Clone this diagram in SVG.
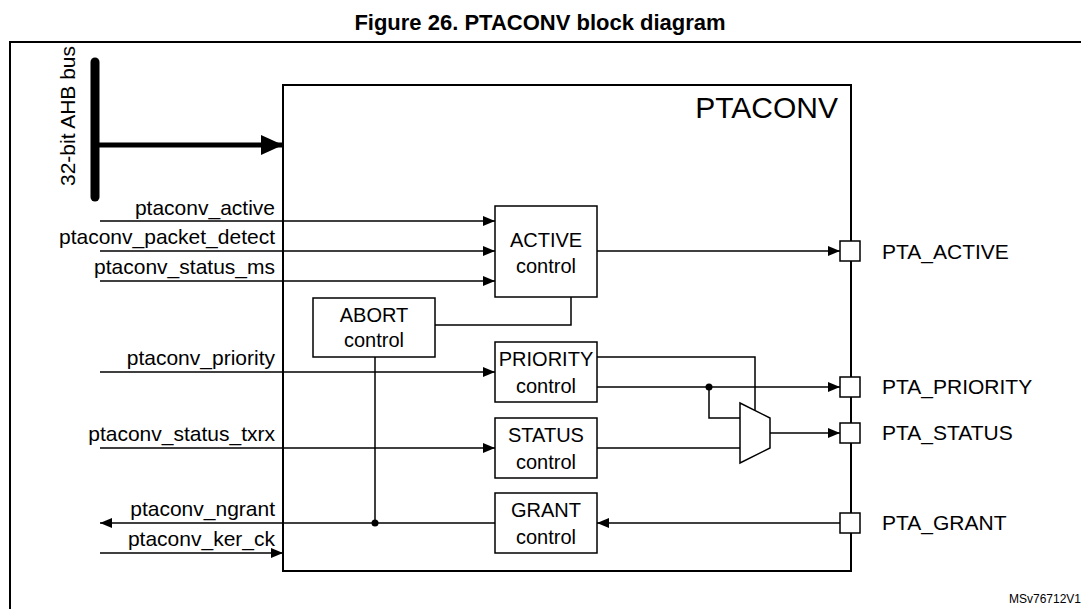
<svg xmlns="http://www.w3.org/2000/svg" width="1081" height="609" viewBox="0 0 1081 609">
<defs>
<marker id="ah" markerWidth="12" markerHeight="10" refX="12" refY="5" orient="auto" markerUnits="userSpaceOnUse"><path d="M0,0 L12,5 L0,10 Z" fill="#000"/></marker>
<marker id="ahb" markerWidth="22" markerHeight="20" refX="22" refY="10" orient="auto" markerUnits="userSpaceOnUse"><path d="M0,0 L22,10 L0,20 Z" fill="#000"/></marker>
</defs>
<style>
text{font-family:"Liberation Sans",Arial,sans-serif;font-size:20px;fill:#000}
.s{font-size:21px}
.b{fill:#fff;stroke:#000;stroke-width:1.5}
.l{fill:none;stroke:#000;stroke-width:1.5}
.r{text-anchor:end}
.c{text-anchor:middle}
</style>
<rect width="1081" height="609" fill="#fff"/>
<text x="540" y="30" class="c" style="font-weight:bold;font-size:22px">Figure 26. PTACONV block diagram</text>
<rect x="10" y="42" width="1090" height="600" class="l" style="stroke-width:2"/>
<g id="ptaconv"><rect x="283" y="85" width="568" height="486" class="b" style="stroke-width:2"/><text x="838" y="118" class="r" style="font-size:30px">PTACONV</text></g>
<g id="bus"><line x1="95" y1="62" x2="95" y2="197" stroke="#000" stroke-width="9" stroke-linecap="round"/><text transform="translate(75,116) rotate(-90)" class="c s">32-bit AHB bus</text></g>
<g id="active"><rect x="495" y="206" width="102" height="91" class="b"/><text x="546" y="247" class="c">ACTIVE</text><text x="546" y="273" class="c">control</text></g>
<g id="abort"><rect x="313" y="298" width="122" height="59" class="b"/><text x="374" y="322" class="c">ABORT</text><text x="374" y="347" class="c">control</text></g>
<g id="priority"><rect x="495" y="342" width="102" height="60" class="b"/><text x="546" y="366" class="c">PRIORITY</text><text x="546" y="393" class="c">control</text></g>
<g id="status"><rect x="495" y="418" width="102" height="60" class="b"/><text x="546" y="442" class="c">STATUS</text><text x="546" y="469" class="c">control</text></g>
<g id="grant"><rect x="495" y="493" width="102" height="60" class="b"/><text x="546" y="517" class="c">GRANT</text><text x="546" y="544" class="c">control</text></g>
<g id="mux"><path d="M740,403 L770,418 L770,448 L740,463 Z" class="b"/></g>
<g id="pins">
<rect x="840" y="241" width="20" height="20" class="b"/>
<rect x="840" y="377" width="20" height="20" class="b"/>
<rect x="840" y="423" width="20" height="20" class="b"/>
<rect x="840" y="513" width="20" height="20" class="b"/>
</g>
<g id="connectors">
<line x1="97" y1="145" x2="283" y2="145" stroke="#000" stroke-width="5" marker-end="url(#ahb)"/>
<line x1="100" y1="221" x2="495" y2="221" class="l" marker-end="url(#ah)"/>
<line x1="100" y1="251" x2="495" y2="251" class="l" marker-end="url(#ah)"/>
<line x1="100" y1="281" x2="495" y2="281" class="l" marker-end="url(#ah)"/>
<line x1="597" y1="251" x2="840" y2="251" class="l" marker-end="url(#ah)"/>
<polyline points="435,325 571,325 571,297" class="l"/>
<line x1="100" y1="372" x2="495" y2="372" class="l" marker-end="url(#ah)"/>
<polyline points="597,357 755,357 755,410" class="l"/>
<line x1="597" y1="387" x2="840" y2="387" class="l" marker-end="url(#ah)"/>
<polyline points="709,387 709,418 740,418" class="l"/>
<circle cx="709" cy="387" r="3.5"/>
<line x1="100" y1="448" x2="495" y2="448" class="l" marker-end="url(#ah)"/>
<line x1="597" y1="448" x2="740" y2="448" class="l"/>
<line x1="770" y1="433" x2="840" y2="433" class="l" marker-end="url(#ah)"/>
<line x1="840" y1="523" x2="597" y2="523" class="l" marker-end="url(#ah)"/>
<line x1="495" y1="523" x2="100" y2="523" class="l" marker-end="url(#ah)"/>
<line x1="375" y1="357" x2="375" y2="523" class="l"/>
<circle cx="375" cy="523" r="3.5"/>
<line x1="100" y1="553" x2="283" y2="553" class="l" marker-end="url(#ah)"/>
</g>
<g id="labels">
<text x="275" y="215" class="r s">ptaconv_active</text>
<text x="275" y="244" class="r s">ptaconv_packet_detect</text>
<text x="275" y="274" class="r s">ptaconv_status_ms</text>
<text x="275" y="365" class="r s">ptaconv_priority</text>
<text x="275" y="441" class="r s">ptaconv_status_txrx</text>
<text x="275" y="516" class="r s">ptaconv_ngrant</text>
<text x="275" y="546" class="r s">ptaconv_ker_ck</text>
<text x="882" y="259" class="s">PTA_ACTIVE</text>
<text x="882" y="394" class="s">PTA_PRIORITY</text>
<text x="882" y="440" class="s">PTA_STATUS</text>
<text x="882" y="530" class="s">PTA_GRANT</text>
<text x="1081" y="603" class="r" style="font-size:12px">MSv76712V1</text>
</g>
</svg>
